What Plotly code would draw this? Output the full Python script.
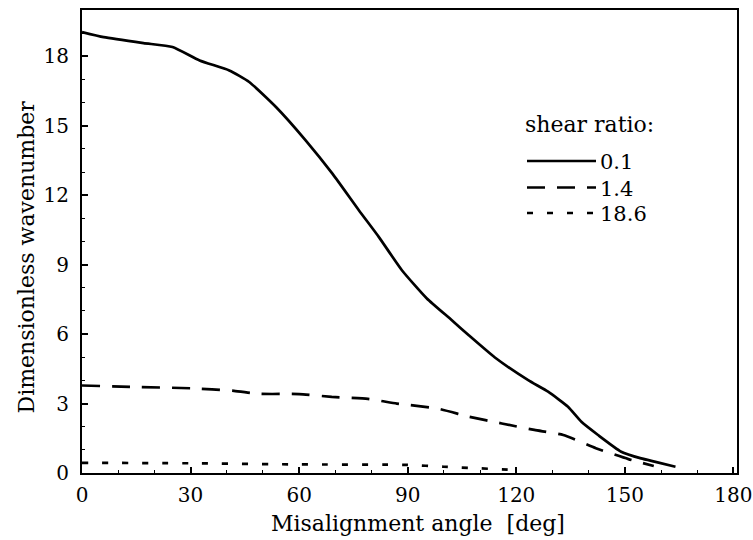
import plotly.graph_objects as go

# Data
angle_01 = [0, 6, 17, 25, 32.5, 40.7, 46.2, 53.6, 61.8, 69.2, 76.5, 82, 88.4, 95.3,
            102.2, 106.8, 114.1, 123.3, 128.8, 134.3, 138, 142.6, 149, 154.5, 158.2, 164]
wave_01 = [19.05, 18.83, 18.57, 18.40, 17.82, 17.39, 16.89, 15.81, 14.37, 12.93, 11.35,
           10.2, 8.76, 7.54, 6.60, 5.96, 4.99, 4.01, 3.51, 2.86, 2.21, 1.64, 0.92, 0.63, 0.49, 0.27]

angle_14 = [0, 14, 30, 42, 49, 60, 69, 79, 87, 98, 107, 116, 125, 133, 142, 151, 158]
wave_14 = [3.78, 3.72, 3.66, 3.55, 3.42, 3.41, 3.29, 3.2, 3.0, 2.79, 2.43, 2.14, 1.86,
           1.64, 1.07, 0.6, 0.3]

angle_186 = [0, 30, 60, 90, 100, 120]
wave_186 = [0.44, 0.42, 0.37, 0.35, 0.27, 0.13]

series_names = ["0.1", "1.4", "18.6"]
legend_title = "shear ratio:"
x_title = "Misalignment angle\u00a0\u00a0[deg]"
y_title = "Dimensionless wavenumber"
x_ticks = [0, 30, 60, 90, 120, 150, 180]
y_ticks = [0, 3, 6, 9, 12, 15, 18]

FONT = "DejaVu Serif"
dashes = ["solid", "18px,12px", "6px,14px"]

fig = go.Figure()
for xs, ys, name, dash in zip([angle_01, angle_14, angle_186],
                              [wave_01, wave_14, wave_186], series_names, dashes):
    fig.add_trace(go.Scatter(x=xs, y=ys, mode="lines", name=name,
                             line=dict(color="black", width=2.7, dash=dash,
                                       shape="spline", smoothing=0.5),
                             showlegend=False))

axis_common = dict(showline=True, linewidth=2, linecolor="black", mirror=True,
                   ticks="inside", ticklen=6, tickwidth=1.5, tickcolor="black",
                   showgrid=False, zeroline=False, ticklabeloverflow="allow",
                   automargin=False,
                   tickfont=dict(family=FONT, size=20, color="black"))

fig.update_xaxes(range=[0, 181], tickvals=x_ticks, ticklabelstandoff=3,
                 minor=dict(ticks="inside", ticklen=3, tickwidth=1.2, dtick=10, tickcolor="black"),
                 **axis_common)
fig.update_yaxes(range=[0, 20], tickvals=y_ticks, ticklabelstandoff=7,
                 minor=dict(ticks="inside", ticklen=3, tickwidth=1.2, dtick=1, tickcolor="black"),
                 **axis_common)

W, H = 753, 540
L, R, T, B = 82, 16, 10, 67
pw, ph = W - L - R, H - T - B


def px(xp):
    return (xp - L) / pw


def py(yp):
    return (H - B - yp) / ph


annots = [
    dict(text=x_title, x=px(418.5), y=py(523), xanchor="center", yanchor="middle",
         font=dict(size=22)),
    dict(text=y_title, x=px(26), y=py(257.5), xanchor="center", yanchor="middle",
         textangle=-90, font=dict(size=22)),
    dict(text=legend_title, x=px(523), y=py(124), xanchor="left", yanchor="middle",
         font=dict(size=22)),
]
legend_rows_y = [161, 187.5, 213]
for name, yy in zip(series_names, legend_rows_y):
    annots.append(dict(text=name, x=px(598), y=py(yy + 1), xanchor="left", yanchor="middle",
                       font=dict(size=21)))
for a in annots:
    a.update(xref="paper", yref="paper", showarrow=False)
    a["font"].update(family=FONT, color="black")

shapes = []
for dash, yy in zip(dashes, legend_rows_y):
    shapes.append(dict(type="line", xref="paper", yref="paper",
                       x0=px(527), x1=px(596), y0=py(yy), y1=py(yy),
                       line=dict(color="black", width=2.7, dash=dash)))

fig.update_layout(width=W, height=H, margin=dict(l=L, r=R, t=T, b=B),
                  paper_bgcolor="white", plot_bgcolor="white",
                  annotations=annots, shapes=shapes, showlegend=False)

fig.write_html("out.html")
